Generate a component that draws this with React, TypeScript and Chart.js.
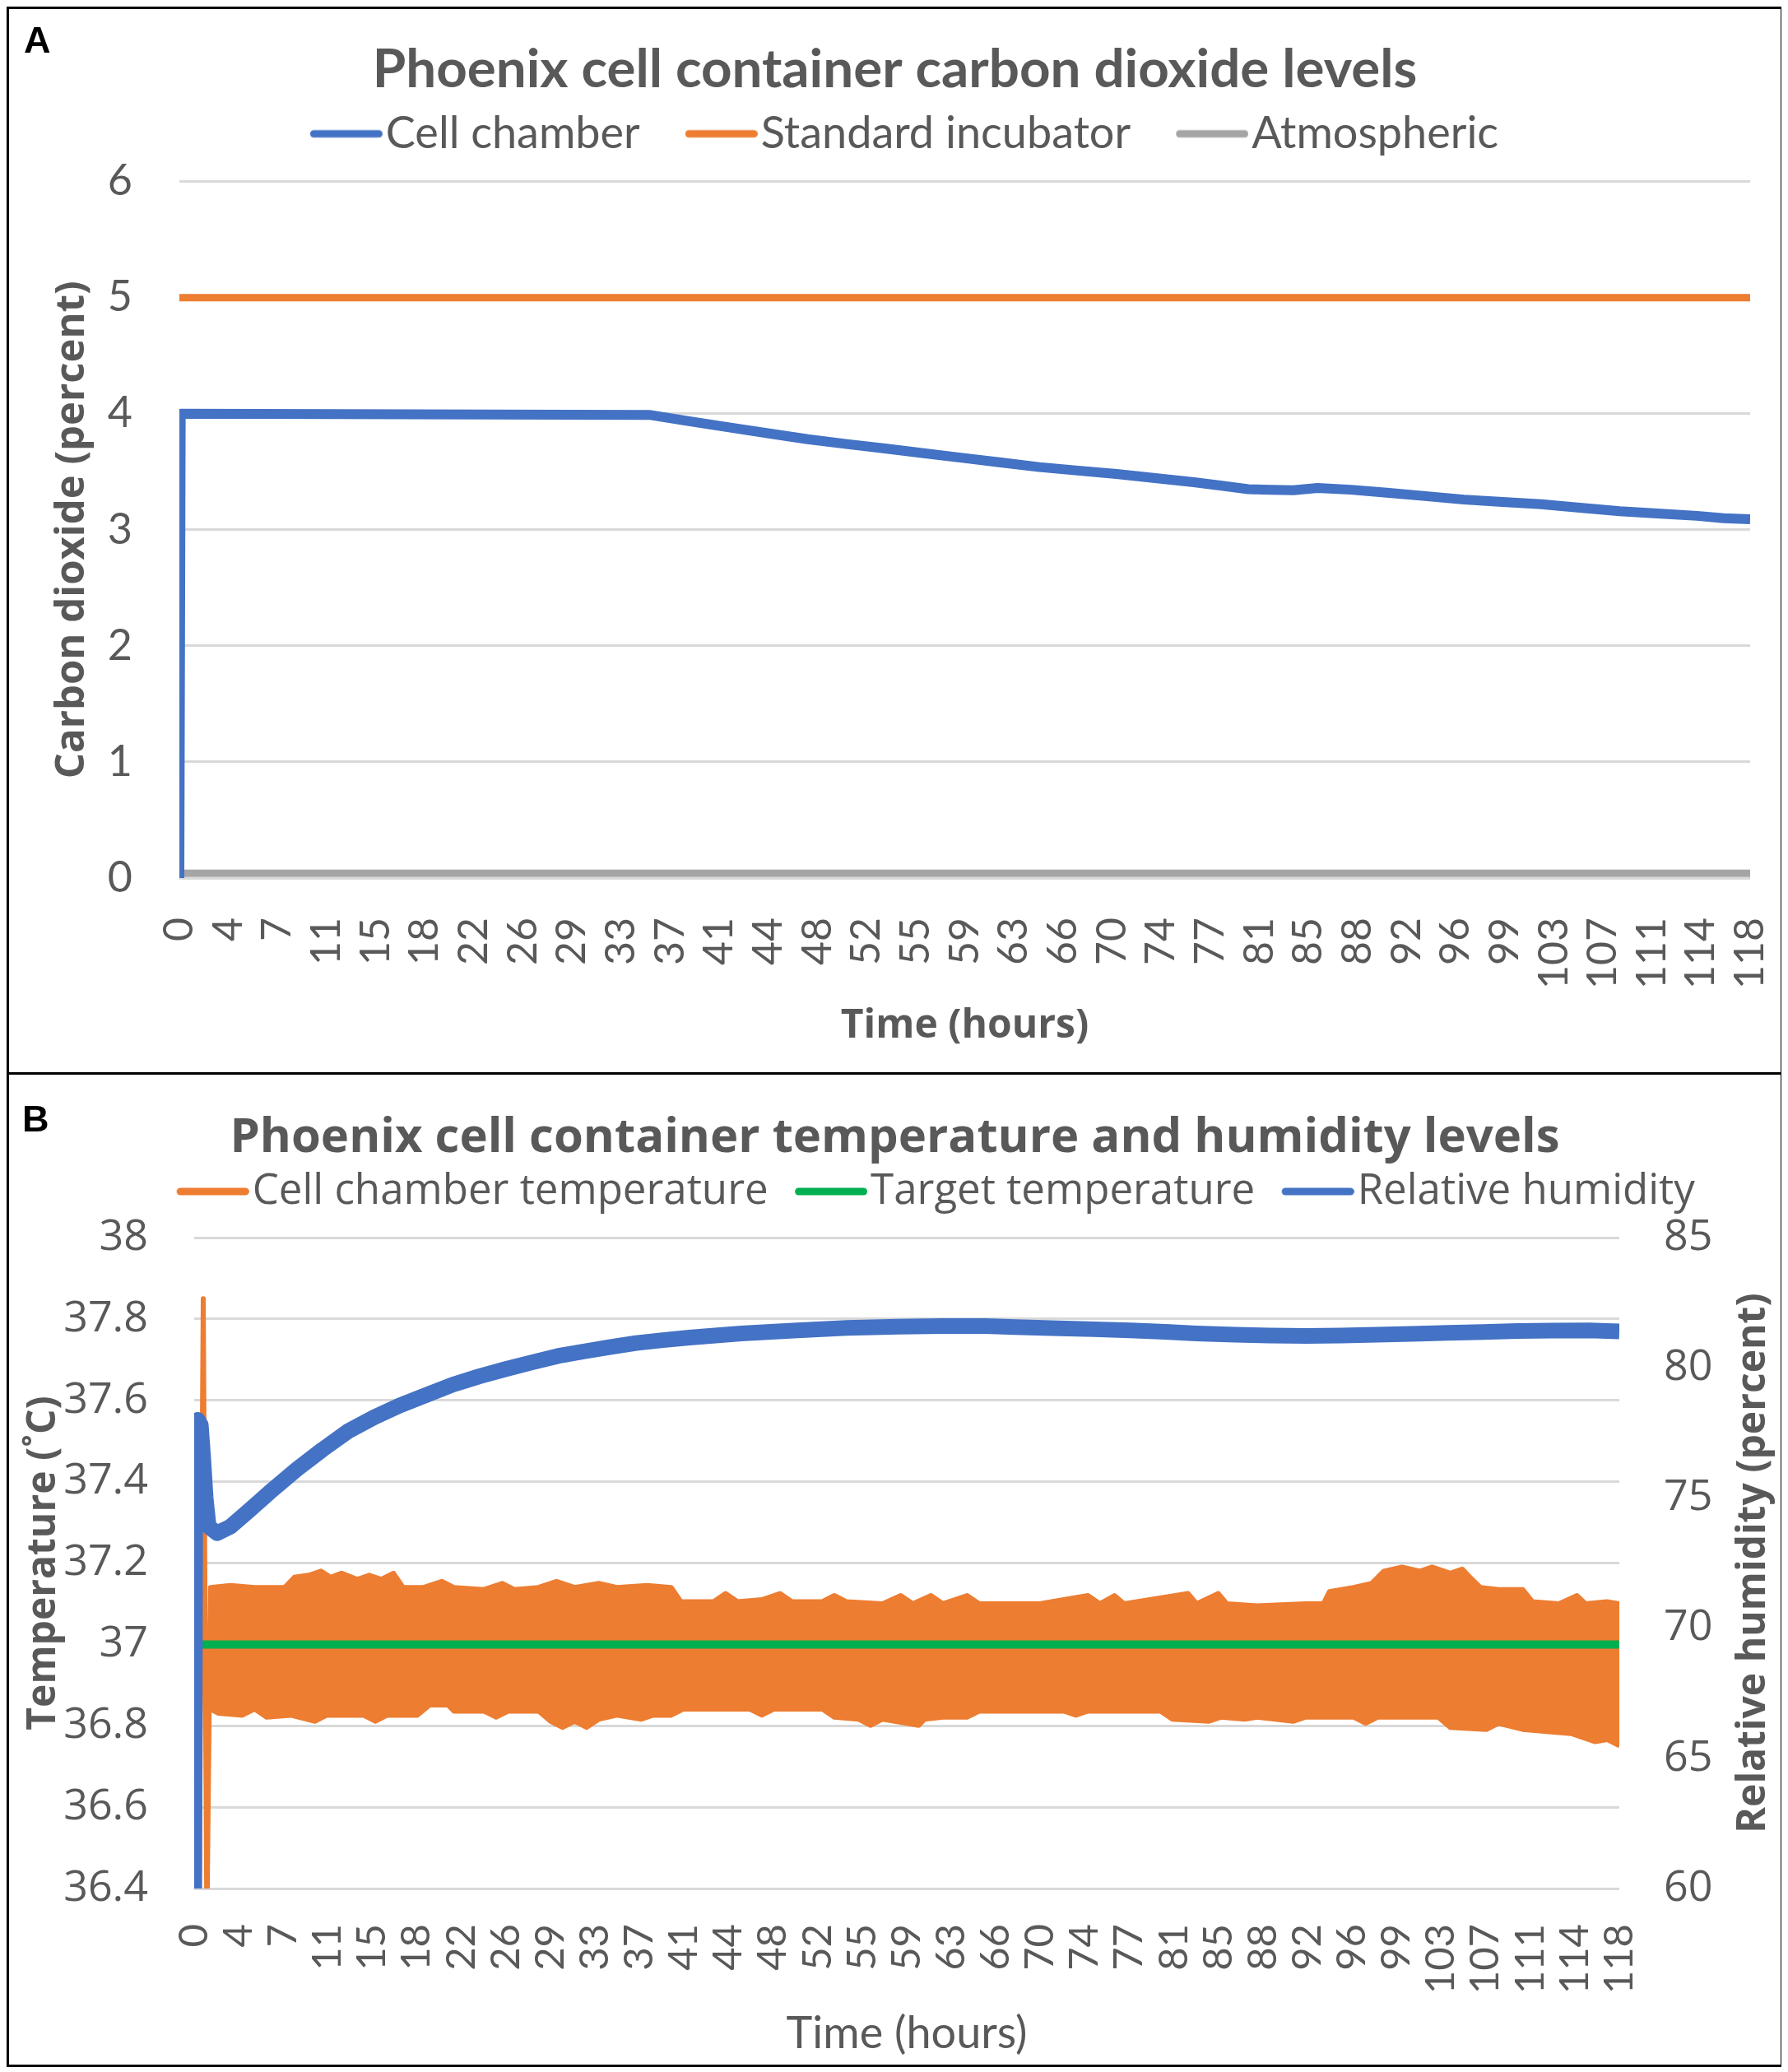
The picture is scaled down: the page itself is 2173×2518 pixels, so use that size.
import React, { useEffect, useRef } from "react";
import { Chart, registerables, type ChartConfiguration, type Plugin } from "chart.js";

Chart.register(...registerables);

const TEXT = "#595959";
const GRID = "#D9D9D9";
const BLUE = "#4472C4";
const ORANGE = "#ED7D31";
const GRAY = "#A5A5A5";
const GREEN = "#00B050";

const LATO = "Lato, 'Noto Sans', sans-serif";
const OPEN = "'Open Sans', 'Noto Sans', sans-serif";

// category labels under both charts (evenly spaced over the run)
const TIME_LABELS = [
  "0", "4", "7", "11", "15", "18", "22", "26", "29", "33", "37", "41", "44", "48", "52", "55", "59",
  "63", "66", "70", "74", "77", "81", "85", "88", "92", "96", "99", "103", "107", "111", "114", "118",
];
const HOURS_END = 118;

// panel A - carbon dioxide (percent)
const CO2_TIME = [
  0, 0.1, 35.3, 38, 41.4, 44.3, 47.2, 50, 53, 55.9, 58.8, 61.7, 64.6, 67.5, 70.4, 73.3, 76.2,
  78.3, 80.3, 82, 83.7, 85.5, 88, 90.7, 93.6, 96.5, 99.4, 102.3, 105.2, 108.2, 111, 114, 116, 118,
];
const CO2_CELL = [
  0, 4.0, 3.99, 3.94, 3.88, 3.83, 3.78, 3.74, 3.7, 3.66, 3.62, 3.58, 3.54, 3.51, 3.48, 3.445, 3.41,
  3.38, 3.35, 3.345, 3.34, 3.36, 3.345, 3.32, 3.29, 3.26, 3.24, 3.22, 3.19, 3.16, 3.14, 3.12, 3.1, 3.09,
];
const FLAT_TIME = [0, 118];
const CO2_INCUBATOR = [5, 5];
const CO2_ATMOSPHERIC = [0.04, 0.04];

// panel B - temperature band (upper / lower edge of the oscillation), target, humidity
const TEMP_HIGH_TIME = [
  0.4, 0.75, 1.05, 1.35, 3, 5, 7.5, 8.3, 9.5, 10.5, 11.3, 12.2, 13.5, 14.5, 15.5, 16.5, 17.3, 19,
  20.5, 21.5, 24, 25.5, 26.5, 28.5, 30, 31.5, 33.5, 35, 37.5, 39.5, 40.3, 43, 44, 45, 47, 48.5,
  49.5, 52, 53, 54, 57, 58.5, 59.5, 61, 62, 64, 65, 70, 74, 75, 76.2, 77, 82.3, 83, 84.8, 85.5, 88,
  92, 93.5, 94, 96, 97.5, 98.5, 100, 101.5, 102.5, 104, 105, 105.8, 106.5, 108, 110, 110.8, 113,
  114.5, 115.2, 117, 118,
];
const TEMP_HIGH = [
  36.3, 37.85, 36.3, 37.14, 37.145, 37.14, 37.14, 37.165, 37.17, 37.18, 37.165, 37.175, 37.16,
  37.17, 37.16, 37.175, 37.14, 37.14, 37.155, 37.14, 37.135, 37.15, 37.135, 37.14, 37.155, 37.14,
  37.15, 37.14, 37.145, 37.14, 37.105, 37.105, 37.125, 37.105, 37.11, 37.125, 37.105, 37.105,
  37.12, 37.105, 37.1, 37.12, 37.1, 37.12, 37.1, 37.12, 37.1, 37.1, 37.12, 37.1, 37.12, 37.1,
  37.125, 37.1, 37.125, 37.1, 37.095, 37.1, 37.1, 37.13, 37.14, 37.15, 37.18, 37.19, 37.18, 37.19,
  37.175, 37.185, 37.16, 37.14, 37.135, 37.135, 37.105, 37.1, 37.12, 37.1, 37.105, 37.1,
];
const TEMP_LOW_TIME = [
  1.35, 2, 4, 5, 6, 8, 10, 11, 14, 15, 16, 18.5, 19.5, 21, 21.5, 24, 25, 26, 28.5, 29.5, 30.5,
  31.5, 32.5, 33.5, 35, 37, 38, 39.5, 40.5, 46, 47, 48, 52, 53, 55, 56, 57, 60, 60.5, 62, 64, 65,
  72, 73, 74, 80, 81, 84, 85, 87, 88, 91, 92, 96, 97, 98, 103, 104, 107, 108, 110, 112, 114, 116,
  117, 118,
];
const TEMP_LOW = [
  36.84, 36.83, 36.825, 36.84, 36.82, 36.825, 36.81, 36.825, 36.825, 36.81, 36.825, 36.825, 36.85,
  36.85, 36.835, 36.835, 36.82, 36.835, 36.835, 36.81, 36.795, 36.81, 36.795, 36.815, 36.825,
  36.815, 36.825, 36.825, 36.84, 36.84, 36.825, 36.84, 36.84, 36.82, 36.815, 36.8, 36.815, 36.8,
  36.815, 36.82, 36.82, 36.835, 36.835, 36.825, 36.835, 36.835, 36.815, 36.81, 36.82, 36.815,
  36.82, 36.81, 36.82, 36.82, 36.805, 36.82, 36.82, 36.795, 36.79, 36.805, 36.79, 36.785, 36.78,
  36.76, 36.765, 36.75,
];
const TARGET_TIME = [0.1, 118];
const TARGET_TEMP = [37, 37];
const HUM_TIME = [
  0, 0.1, 0.3, 0.55, 0.75, 0.95, 1.2, 1.9, 3, 4.5, 6.2, 8.5, 10.6, 12.7, 14.9, 17, 19.2, 21.4,
  23.6, 25.8, 27.9, 30.1, 32.3, 34.5, 36.6, 38.8, 41, 45.3, 49.6, 54, 58.3, 62, 65.5, 68, 71, 74.5,
  77.5, 80.4, 83, 86.2, 89, 92.1, 95, 97.9, 100.8, 103.8, 106.7, 109.6, 112.5, 115.5, 118,
];
const HUM_VALUE = [
  60, 77.6, 78.0, 77.8, 76.5, 75.0, 73.9, 73.65, 73.9, 74.5, 75.2, 76.1, 76.85, 77.55, 78.1, 78.55,
  78.95, 79.35, 79.67, 79.95, 80.2, 80.45, 80.63, 80.8, 80.95, 81.06, 81.16, 81.32, 81.43, 81.53,
  81.58, 81.6, 81.6, 81.56, 81.52, 81.48, 81.44, 81.38, 81.32, 81.27, 81.24, 81.22, 81.24, 81.27,
  81.3, 81.34, 81.37, 81.41, 81.43, 81.44, 81.4,
];

const pts = (xs: number[], ys: number[]) => xs.map((x, i) => ({ x, y: ys[i] }));

// legend: extra room below it, and nudged sideways like the original
const legendPlacement = (extra: number, dx: number): Plugin<"line"> => ({
  id: "legendPlacement",
  beforeInit(chart: any) {
    const legend = chart.legend;
    const fit = legend.fit;
    const draw = legend.draw;
    legend.fit = function () {
      fit.call(this);
      this.height += extra;
    };
    legend.draw = function () {
      this.ctx.save();
      this.ctx.translate(dx, 0);
      draw.call(this);
      this.ctx.restore();
    };
  },
});

// legend swatch: a short round-capped line pushed right so it nearly touches its text
function lineSwatch(color: string, shift: number) {
  const c = document.createElement("canvas");
  c.width = 88 + 2 * shift;
  c.height = 12;
  const ctx = c.getContext("2d")!;
  ctx.strokeStyle = color;
  ctx.lineWidth = 9;
  ctx.lineCap = "round";
  ctx.beginPath();
  ctx.moveTo(2 * shift + 4.5, 6);
  ctx.lineTo(2 * shift + 88 - 4.5, 6);
  ctx.stroke();
  return c;
}

function legendOptions(fontFamily: string, size: number, padding: number, hide: number[] = []) {
  const shift = size / 2 - 4;
  return {
    display: true,
    labels: {
      color: TEXT,
      font: { family: fontFamily, size },
      padding,
      usePointStyle: true,
      pointStyleWidth: 88,
      generateLabels: (chart: Chart) =>
        Chart.defaults.plugins.legend.labels
          .generateLabels(chart)
          .filter((l) => !hide.includes(l.datasetIndex as number))
          .sort((a, b) => (a.datasetIndex as number) - (b.datasetIndex as number))
          .map((l) => ({ ...l, pointStyle: lineSwatch(l.strokeStyle as string, shift) as any })),
    },
  };
}

function timeAxis(height: number, rightGap: number, tickFont: any, tickPad: number, title: any) {
  return {
    type: "linear" as const,
    min: 0,
    max: HOURS_END,
    afterBuildTicks: (axis: any) => {
      axis.ticks = TIME_LABELS.map((_, i) => ({ value: (i * HOURS_END) / (TIME_LABELS.length - 1) }));
    },
    afterFit: (axis: any) => {
      axis.height = height;
      axis.paddingLeft = 0;
      axis.paddingRight = rightGap;
    },
    ticks: {
      autoSkip: false,
      minRotation: 90,
      maxRotation: 90,
      padding: tickPad,
      color: TEXT,
      font: tickFont,
      callback: (_v: any, i: number) => TIME_LABELS[i],
    },
    grid: { display: false },
    border: { display: false },
    title,
  };
}

function useChart(ref: React.RefObject<HTMLCanvasElement | null>, make: () => ChartConfiguration<"line">) {
  useEffect(() => {
    if (!ref.current) return;
    const chart = new Chart(ref.current, make());
    return () => chart.destroy();
  }, []);
}

function CarbonDioxideChart() {
  const canvasRef = useRef<HTMLCanvasElement | null>(null);

  useChart(canvasRef, () => ({
    type: "line",
    data: {
      datasets: [
        { label: "Cell chamber", data: pts(CO2_TIME, CO2_CELL), borderColor: BLUE, backgroundColor: BLUE, borderWidth: 12, order: 0 },
        { label: "Standard incubator", data: pts(FLAT_TIME, CO2_INCUBATOR), borderColor: ORANGE, backgroundColor: ORANGE, borderWidth: 9, order: 1 },
        { label: "Atmospheric", data: pts(FLAT_TIME, CO2_ATMOSPHERIC), borderColor: GRAY, backgroundColor: GRAY, borderWidth: 9, order: 2 },
      ],
    },
    options: {
      animation: false,
      responsive: true,
      maintainAspectRatio: false,
      layout: { padding: 0 },
      elements: { point: { radius: 0 }, line: { tension: 0, borderJoinStyle: "round" } },
      plugins: {
        title: {
          display: true,
          text: "Phoenix cell container carbon dioxide levels",
          color: TEXT,
          font: { family: LATO, size: 65.5, weight: "bold" },
          padding: { top: 35, bottom: -21 },
        },
        legend: legendOptions(LATO, 54, 32) as any,
        tooltip: { enabled: false },
      },
      scales: {
        x: timeAxis(236, 37, { family: LATO, size: 50 }, 40, {
          display: true,
          text: "Time (hours)",
          color: TEXT,
          font: { family: OPEN, size: 48, weight: "bold" },
          padding: { top: 0, bottom: 27.2 },
        }) as any,
        y: {
          min: 0,
          max: 6,
          afterFit: (axis: any) => {
            axis.width = 207;
          },
          ticks: { stepSize: 1, padding: 57, color: TEXT, font: { family: LATO, size: 52 } },
          grid: { color: GRID, lineWidth: 3, drawTicks: false },
          border: { display: false },
          title: {
            display: true,
            text: "Carbon dioxide (percent)",
            color: TEXT,
            font: { family: OPEN, size: 49, weight: "bold" },
            padding: { top: 47.6, bottom: 0 },
          },
        },
      },
    },
    plugins: [legendPlacement(21, 0)],
  }));

  return <canvas ref={canvasRef} />;
}

const rightAxisTitle: Plugin<"line"> = {
  id: "rightAxisTitle",
  afterDraw(chart) {
    const s = chart.scales.y1;
    const ctx = chart.ctx;
    ctx.save();
    ctx.font = `bold 48px ${OPEN}`;
    ctx.fillStyle = TEXT;
    ctx.textAlign = "center";
    ctx.textBaseline = "middle";
    ctx.translate(s.right - 33, (s.top + s.bottom) / 2);
    ctx.rotate(-Math.PI / 2);
    ctx.fillText("Relative humidity (percent)", 0, 0);
    ctx.restore();
  },
};

function TemperatureHumidityChart() {
  const canvasRef = useRef<HTMLCanvasElement | null>(null);

  useChart(canvasRef, () => ({
    type: "line",
    data: {
      datasets: [
        {
          label: "Cell chamber temperature",
          data: pts(TEMP_HIGH_TIME, TEMP_HIGH),
          borderColor: ORANGE,
          backgroundColor: ORANGE,
          borderWidth: 6,
          fill: "+1",
          yAxisID: "y",
          order: 2,
        },
        {
          label: "temperature low",
          data: pts(TEMP_LOW_TIME, TEMP_LOW),
          borderColor: ORANGE,
          backgroundColor: ORANGE,
          borderWidth: 5,
          yAxisID: "y",
          order: 3,
        },
        {
          label: "Target temperature",
          data: pts(TARGET_TIME, TARGET_TEMP),
          borderColor: GREEN,
          backgroundColor: GREEN,
          borderWidth: 10,
          yAxisID: "y",
          order: 1,
        },
        {
          label: "Relative humidity",
          data: pts(HUM_TIME, HUM_VALUE),
          borderColor: BLUE,
          backgroundColor: BLUE,
          borderWidth: 19,
          yAxisID: "y1",
          order: 0,
        },
      ],
    },
    options: {
      animation: false,
      responsive: true,
      maintainAspectRatio: false,
      layout: { padding: 0 },
      elements: { point: { radius: 0 }, line: { tension: 0, borderJoinStyle: "round" } },
      plugins: {
        title: {
          display: true,
          text: "Phoenix cell container temperature and humidity levels",
          color: TEXT,
          font: { family: OPEN, size: 58, weight: "bold" },
          padding: { top: 42.2, bottom: -6.3 },
        },
        legend: legendOptions(OPEN, 51, 11, [1]) as any,
        tooltip: { enabled: false },
      },
      scales: {
        x: timeAxis(214, 0, { family: LATO, size: 49 }, 35, {
          display: true,
          text: "Time (hours)",
          color: TEXT,
          font: { family: LATO, size: 54 },
          padding: { top: 0, bottom: 4.6 },
        }) as any,
        y: {
          position: "left",
          min: 36.4,
          max: 38,
          afterFit: (axis: any) => {
            axis.width = 225;
          },
          ticks: {
            stepSize: 0.2,
            padding: 56,
            color: TEXT,
            font: { family: OPEN, size: 52 },
            callback: (v: any) => Number(v).toFixed(1).replace(/\.0$/, ""),
          },
          grid: { color: GRID, lineWidth: 3, drawTicks: false },
          border: { display: false },
          title: {
            display: true,
            text: "Temperature (˚C)",
            color: TEXT,
            font: { family: OPEN, size: 48, weight: "bold" },
            padding: { top: 13.2, bottom: 0 },
          },
        },
        y1: {
          position: "right",
          min: 60,
          max: 85,
          afterFit: (axis: any) => {
            axis.width = 196;
          },
          ticks: { stepSize: 5, padding: 54, color: TEXT, font: { family: OPEN, size: 52 } },
          grid: { display: false, drawTicks: false },
          border: { display: false },
        },
      },
    },
    plugins: [legendPlacement(20.5, 39), rightAxisTitle],
  }));

  return <canvas ref={canvasRef} />;
}

const panelLabel: React.CSSProperties = {
  position: "absolute",
  fontFamily: "'Liberation Sans', Arial, sans-serif",
  fontWeight: "bold",
  fontSize: 45,
  lineHeight: "45px",
  color: "#000",
};

export default function App() {
  return (
    <div
      style={{
        position: "relative",
        width: 2159,
        height: 2504,
        border: "3px solid #000",
        boxSizing: "border-box",
        background: "#fff",
      }}
    >
      <div style={{ position: "absolute", left: 0, top: 0, width: 2153, height: 1292 }}>
        <CarbonDioxideChart />
      </div>
      <div style={{ position: "absolute", left: 0, top: 1292, width: 2153, height: 3, background: "#000" }} />
      <div style={{ position: "absolute", left: 0, top: 1295, width: 2153, height: 1203 }}>
        <TemperatureHumidityChart />
      </div>
      <div style={{ ...panelLabel, left: 18, top: 15 }}>A</div>
      <div style={{ ...panelLabel, left: 16, top: 1326 }}>B</div>
    </div>
  );
}
